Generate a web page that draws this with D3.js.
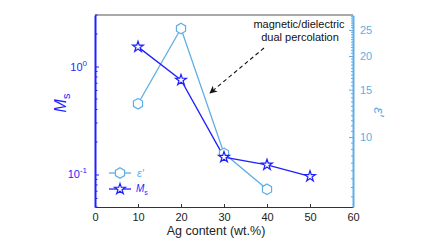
<!DOCTYPE html>
<html><head><meta charset="utf-8">
<script src="https://cdn.jsdelivr.net/npm/d3@7"></script>
<style>body{margin:0;background:#fff}svg{display:block;font-family:"Liberation Sans",Arial,sans-serif}</style>
</head><body><svg id="c" width="448" height="252"></svg>
<script>
const agContent = [10, 20, 30, 40, 50];
const msValues = [1.52, 0.75, 0.145, 0.123, 0.096];
const epsX = [10, 20, 30, 40];
const epsValues = [13.3, 25.3, 8.7, 6.4];
const xTicks = [0, 10, 20, 30, 40, 50, 60];
const rightTicks = [10, 15, 20, 25];
const leftMajor = [0.1, 1];

const blue = "#1f1fff", lblue = "#5eaee6";
const svg = d3.select("#c");
const L = 95, R = 353, T = 15, B = 207;
const x = d3.scaleLinear().domain([0, 60]).range([L, R]);
const yL = d3.scaleLog().domain([0.05, 3]).range([B, T]);
const yR = d3.scaleLog().domain([5.5, 28.4]).range([B, T]);

// frame top
svg.append("line").attr("x1", L).attr("x2", R).attr("y1", T).attr("y2", T).attr("stroke", "#555").attr("stroke-width", 1.2);

// x axis
const xa = svg.append("g").attr("transform", `translate(0,${B})`)
  .call(d3.axisBottom(x).tickValues(xTicks).tickSizeInner(-3).tickSizeOuter(0).tickPadding(6));
xa.select(".domain").attr("stroke", "#333").attr("stroke-width", 1.2);
xa.selectAll("line").attr("stroke", "#333");
xa.selectAll("text").attr("font-size", 11).attr("fill", "#222").attr("font-family", "Liberation Sans, Arial");
svg.append("text").attr("x", x(30) - 8).attr("y", 235).attr("text-anchor", "middle").attr("font-size", 12.5).attr("fill", "#222").text("Ag content (wt.%)");

// left axis (log)
const minorL = [];
[0.01, 0.1, 1].forEach(d => { for (let k = 1; k <= 9; k++) { const v = d * k; if (v >= 0.05 && v <= 3 && !leftMajor.some(m => Math.abs(m - v) < 1e-9)) minorL.push(v); } });
const la = svg.append("g").attr("transform", `translate(${L},0)`);
la.call(d3.axisLeft(yL).tickValues(leftMajor).tickSizeInner(-4).tickSizeOuter(0).tickFormat(""));
la.select(".domain").attr("stroke", blue).attr("stroke-width", 2);
la.selectAll(".tick line").attr("stroke", blue);
la.selectAll(".minor").data(minorL).enter().append("line").attr("class", "minor")
  .attr("x1", 0).attr("x2", 2.5).attr("y1", d => yL(d)).attr("y2", d => yL(d)).attr("stroke", blue);
leftMajor.forEach(v => {
  const t = svg.append("text").attr("x", L - 8).attr("y", yL(v) + 4).attr("text-anchor", "end").attr("font-size", 11).attr("fill", blue);
  t.append("tspan").text("10");
  t.append("tspan").attr("dy", -5).attr("font-size", 8).text(Math.round(Math.log10(v)).toString());
});
const ll = svg.append("text").attr("transform", `translate(66,${(T + B) / 2 - 8}) rotate(-90)`).attr("text-anchor", "middle").attr("fill", blue).attr("font-size", 16);
ll.append("tspan").attr("font-style", "italic").text("M");
ll.append("tspan").attr("font-size", 11).attr("dy", 4).text("s");

// right axis (log)
const minorR = d3.range(6, 28.01, 0.5).filter(v => !rightTicks.includes(v));
const ra = svg.append("g").attr("transform", `translate(${R},0)`);
ra.call(d3.axisRight(yR).tickValues(rightTicks).tickSizeInner(-4).tickSizeOuter(0).tickPadding(7).tickFormat(d3.format("d")));
ra.select(".domain").attr("stroke", lblue).attr("stroke-width", 2);
ra.selectAll(".tick line").attr("stroke", lblue);
ra.selectAll(".tick text").attr("fill", lblue).attr("font-size", 11).attr("font-family", "Liberation Sans, Arial");
ra.selectAll(".minor").data(minorR).enter().append("line").attr("class", "minor")
  .attr("x1", 0).attr("x2", -2).attr("y1", d => yR(d)).attr("y2", d => yR(d)).attr("stroke", lblue);
svg.append("text").attr("transform", `translate(374,${(T + B) / 2 + 1}) rotate(90)`).attr("text-anchor", "middle")
  .attr("fill", lblue).attr("font-size", 15).attr("font-style", "italic").text("ε′");

// series
const hex = d3.symbol().type({draw(ctx, size) { const r = Math.sqrt(size / 2.598); for (let i = 0; i < 6; i++) { const a = Math.PI / 3 * i - Math.PI / 2; const px = r * Math.cos(a), py = r * Math.sin(a); i ? ctx.lineTo(px, py) : ctx.moveTo(px, py); } ctx.closePath(); }}).size(72);
const star = d3.symbol().type(d3.symbolStar).size(36);

const epsData = epsX.map((d, i) => [d, epsValues[i]]);
const msData = agContent.map((d, i) => [d, msValues[i]]);
svg.append("path").attr("d", d3.line().x(d => x(d[0])).y(d => yR(d[1]))(epsData)).attr("fill", "none").attr("stroke", lblue).attr("stroke-width", 1.3);
svg.append("path").attr("d", d3.line().x(d => x(d[0])).y(d => yL(d[1]))(msData)).attr("fill", "none").attr("stroke", blue).attr("stroke-width", 1.3);
svg.selectAll(".hx").data(epsData).enter().append("path").attr("d", hex).attr("transform", d => `translate(${x(d[0])},${yR(d[1])})`).attr("fill", "#fff").attr("stroke", lblue).attr("stroke-width", 1.2);
svg.selectAll(".st").data(msData).enter().append("path").attr("d", star).attr("transform", d => `translate(${x(d[0])},${yL(d[1])})`).attr("fill", "#fff").attr("stroke", blue).attr("stroke-width", 1.2);

// legend
const lg = svg.append("g");
lg.append("line").attr("x1", 109).attr("x2", 131).attr("y1", 173).attr("y2", 173).attr("stroke", lblue).attr("stroke-width", 1.3);
lg.append("path").attr("d", hex).attr("transform", "translate(120,173)").attr("fill", "#fff").attr("stroke", lblue).attr("stroke-width", 1.2);
lg.append("text").attr("x", 137).attr("y", 177).attr("font-size", 11).attr("font-style", "italic").attr("fill", lblue).text("ε′");
lg.append("line").attr("x1", 109).attr("x2", 131).attr("y1", 189).attr("y2", 189).attr("stroke", blue).attr("stroke-width", 1.3);
lg.append("path").attr("d", star).attr("transform", "translate(120,189)").attr("fill", "#fff").attr("stroke", blue).attr("stroke-width", 1.2);
const lt = lg.append("text").attr("x", 136).attr("y", 192).attr("font-size", 10).attr("fill", blue);
lt.append("tspan").attr("font-style", "italic").text("M");
lt.append("tspan").attr("font-size", 7).attr("dy", 3).text("s");

// annotation
svg.append("defs").append("marker").attr("id", "ah").attr("viewBox", "0 0 10 10").attr("refX", 9).attr("refY", 5)
  .attr("markerWidth", 7).attr("markerHeight", 7).attr("orient", "auto")
  .append("path").attr("d", "M0,0 L10,5 L0,10 L3,5 Z").attr("fill", "#111");
svg.append("line").attr("x1", 264).attr("y1", 48).attr("x2", 210).attr("y2", 93).attr("stroke", "#111").attr("stroke-width", 1.1)
  .attr("stroke-dasharray", "4,3").attr("marker-end", "url(#ah)");
svg.append("text").attr("x", 299).attr("y", 28).attr("text-anchor", "middle").attr("font-size", 11).attr("fill", "#111").text("magnetic/dielectric");
svg.append("text").attr("x", 300).attr("y", 41).attr("text-anchor", "middle").attr("font-size", 11).attr("fill", "#111").text("dual percolation");
</script></body></html>
